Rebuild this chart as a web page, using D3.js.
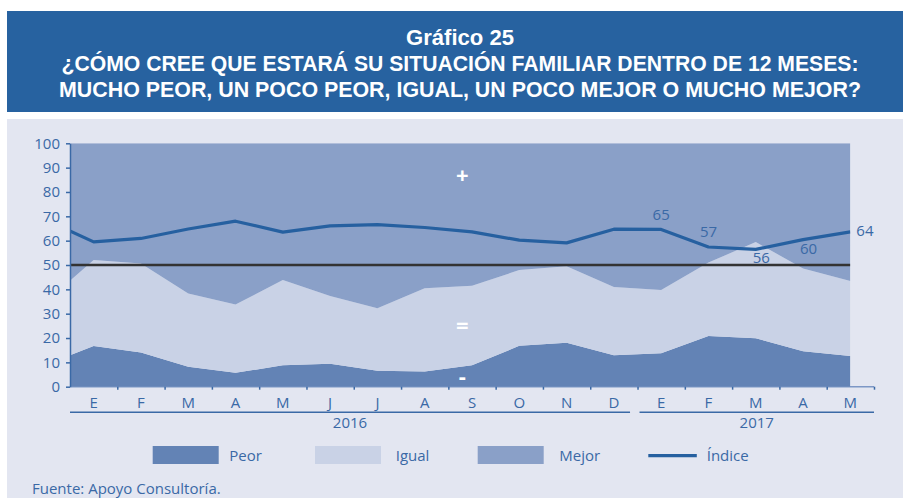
<!DOCTYPE html>
<html>
<head>
<meta charset="utf-8">
<script src="https://cdn.jsdelivr.net/npm/d3@7"></script>
<style>
  html, body { margin: 0; padding: 0; background: #ffffff; }
  svg { display: block; font-family: "Open Sans", "DejaVu Sans", sans-serif; }
</style>
</head>
<body>
<svg id="chart" width="903" height="498"></svg>
<script>
// ---------------- DATA ----------------
// First entry is Dec 2015 (only partly visible at the left edge, clipped)
const periods = ["D-2015","E","F","M","A","M","J","J","A","S","O","N","D","E","F","M","A","M"];
const monthLabels = ["E","F","M","A","M","J","J","A","S","O","N","D","E","F","M","A","M"];
const years = [
  { label: "2016", from: 0, to: 12 },
  { label: "2017", from: 12, to: 17 }
];
const peor  = [9.1, 16.7, 14.0, 8.2, 5.7, 8.8, 9.4, 6.6, 6.2, 8.8, 16.8, 18.1, 12.9, 13.7, 20.8, 19.9, 14.6, 12.6];
const igual = [25.8, 35.4, 36.6, 30.1, 28.1, 35.0, 27.9, 25.6, 34.2, 32.7, 31.1, 31.4, 28.1, 26.0, 30.2, 39.5, 34.0, 30.8];
const mejor = [65.1, 47.9, 49.4, 61.7, 66.2, 56.2, 62.7, 67.8, 59.6, 58.5, 52.1, 50.5, 59.0, 60.3, 49.0, 40.6, 51.4, 56.6];
const indice = [68.5, 59.5, 60.9, 64.8, 68.0, 63.5, 66.1, 66.6, 65.4, 63.6, 60.2, 59.1, 64.7, 64.6, 57.4, 56.4, 60.4, 63.6];
const labeledIdx = [13, 14, 15, 16, 17];
const labelPlace = ["above", "above", "below", "below", "right"];
const yTicks = [0,10,20,30,40,50,60,70,80,90,100];
const refValue = 50;
const seriesNames = ["Peor", "Igual", "Mejor"];
const zoneSymbols = ["+", "=", "-"];
const titleLines = ["Gráfico 25",
  "¿CÓMO CREE QUE ESTARÁ SU SITUACIÓN FAMILIAR DENTRO DE 12 MESES:",
  "MUCHO PEOR, UN POCO PEOR, IGUAL, UN POCO MEJOR O MUCHO MEJOR?"];
const source = "Fuente: Apoyo Consultoría.";

// ---------------- STYLE ----------------
const C = {
  band: "#2762A0", panel: "#E3E6F1",
  peor: "#6383B5", igual: "#C9D2E6", mejor: "#8AA0C8",
  line: "#2660A0", ref: "#333333", text: "#3A69A6", axis: "#3A69A6"
};

const svg = d3.select("#chart");

// Title band and panel
svg.append("rect").attr("x", 7).attr("y", 11).attr("width", 896).attr("height", 101).attr("fill", C.band);
svg.append("rect").attr("x", 7).attr("y", 119).attr("width", 896).attr("height", 379).attr("fill", C.panel);

const tl = [
  { y: 44.5, size: 21.5, len: 108 },
  { y: 70.7, size: 21.5, len: 797 },
  { y: 96.7, size: 21.5, len: 802 }
];
titleLines.forEach((t, i) => {
  svg.append("text").attr("x", 460).attr("y", tl[i].y)
    .attr("text-anchor", "middle").attr("fill", "#fff")
    .attr("font-family", "'Liberation Sans', Arial, sans-serif")
    .attr("font-weight", 700).attr("font-size", tl[i].size)
    .attr("textLength", tl[i].len).attr("lengthAdjust", "spacingAndGlyphs")
    .text(t);
});

// ---------------- SCALES ----------------
const nBands = monthLabels.length;
const x = d3.scaleLinear().domain([0, nBands]).range([70, 874]);
const y = d3.scaleLinear().domain([0, 100]).range([386.7, 143.3]);
const xPt = i => x(i - 0.5);   // data index i (0 = Dec 2015) -> x position
const plotRight = xPt(periods.length - 1);

// clip
svg.append("defs").append("clipPath").attr("id", "plotclip")
  .append("rect").attr("x", x(0)).attr("y", y(100)).attr("width", plotRight - x(0)).attr("height", y(0) - y(100));

// x axis base line (under fill)
svg.append("line").attr("x1", x(0)).attr("x2", x(nBands)).attr("y1", y(0)).attr("y2", y(0))
  .attr("stroke", "#7D97C6").attr("stroke-width", 1.5);

// stacked areas
const rows = periods.map((p, i) => ({ i, Peor: peor[i], Igual: igual[i], Mejor: mejor[i] }));
const stack = d3.stack().keys(seriesNames)(rows);
const area = d3.area().x(d => xPt(d.data.i)).y0(d => y(d[0])).y1(d => y(d[1]));
const g = svg.append("g").attr("clip-path", "url(#plotclip)");
const colors = { Peor: C.peor, Igual: C.igual, Mejor: C.mejor };
g.selectAll("path.area").data(stack).join("path").attr("class", "area")
  .attr("d", area).attr("fill", d => colors[d.key]);

// reference line at 50
g.append("line").attr("x1", x(0)).attr("x2", plotRight).attr("y1", y(refValue)).attr("y2", y(refValue))
  .attr("stroke", C.ref).attr("stroke-width", 2.4);

// indice line
const line = d3.line().x((d, i) => xPt(i)).y(d => y(d));
g.append("path").attr("d", line(indice)).attr("fill", "none")
  .attr("stroke", C.line).attr("stroke-width", 3.2).attr("stroke-linejoin", "round");

// zone symbols (+ above, = middle, - bottom)
const midX = (x(0) + plotRight) / 2 + 2;
const symbolLevels = [87, 25.4, 4.4];
zoneSymbols.forEach((s, k) => {
  svg.append("text").attr("x", midX).attr("y", y(symbolLevels[k])).attr("dy", "0.35em")
    .attr("text-anchor", "middle").attr("fill", "#fff").attr("font-weight", 700)
    .attr("font-size", 22).text(s);
});

// value labels
const fmt = d3.format(".0f");
labeledIdx.forEach((idx, k) => {
  const px = xPt(idx), py = y(indice[idx]);
  const t = svg.append("text").attr("fill", C.text).attr("font-size", 15).text(fmt(indice[idx]));
  const p = labelPlace[k];
  if (p === "above") t.attr("x", px).attr("y", py - 9.5).attr("text-anchor", "middle");
  else if (p === "below") t.attr("x", px + 5.5).attr("y", py + 14).attr("text-anchor", "middle");
  else t.attr("x", px + 6).attr("y", py + 4.5).attr("text-anchor", "start");
});

// y axis
const yAxis = d3.axisLeft(y).tickValues(yTicks).tickSize(4).tickSizeOuter(0).tickPadding(6);
const ya = svg.append("g").attr("transform", `translate(${x(0)},0)`).call(yAxis);
ya.select(".domain").attr("stroke", C.axis).attr("stroke-width", 1.5);
ya.selectAll(".tick line").attr("stroke", C.axis).attr("stroke-width", 1.5);
ya.selectAll(".tick text").attr("fill", C.text).attr("font-size", 15)
  .attr("font-family", "Open Sans, sans-serif");

// x axis ticks at band boundaries
const xa = d3.axisBottom(x).tickValues(d3.range(1, nBands + 1)).tickSize(3).tickSizeOuter(0).tickFormat("");
const xg = svg.append("g").attr("transform", `translate(0,${y(0)})`).call(xa);
xg.select(".domain").remove();
xg.selectAll(".tick line").attr("stroke", C.axis).attr("stroke-width", 1.5);

// month labels
svg.append("g").selectAll("text").data(monthLabels).join("text")
  .attr("x", (d, i) => x(i + 0.5)).attr("y", 408.3).attr("text-anchor", "middle")
  .attr("fill", C.text).attr("font-size", 15).text(d => d);

// year underlines and labels
years.forEach((yr, k) => {
  const x1 = x(yr.from) + (k === 0 ? 0 : 2);
  const x2 = k === years.length - 1 ? x(yr.to) : x(yr.to) - 7.5;
  svg.append("line").attr("x1", x1).attr("x2", x2).attr("y1", 412.3).attr("y2", 412.3)
    .attr("stroke", C.axis).attr("stroke-width", 1.5);
  svg.append("text").attr("x", (x1 + x2) / 2).attr("y", 428.3).attr("text-anchor", "middle")
    .attr("fill", C.text).attr("font-size", 15).text(yr.label);
});

// legend
const legendItems = [
  { name: "Peor", type: "rect", color: C.peor, x: 152.7, tx: 229.3 },
  { name: "Igual", type: "rect", color: C.igual, x: 315, tx: 395.7 },
  { name: "Mejor", type: "rect", color: C.mejor, x: 477.7, tx: 559.3 },
  { name: "Índice", type: "line", color: C.line, x: 648.3, tx: 706.7 }
];
legendItems.forEach(it => {
  if (it.type === "rect") {
    svg.append("rect").attr("x", it.x).attr("y", 446).attr("width", 66).attr("height", 18).attr("fill", it.color);
  } else {
    svg.append("line").attr("x1", it.x).attr("x2", it.x + 48.5).attr("y1", 455.7).attr("y2", 455.7)
      .attr("stroke", it.color).attr("stroke-width", 3.2);
  }
  svg.append("text").attr("x", it.tx).attr("y", 460.5).attr("fill", C.text).attr("font-size", 15).text(it.name);
});

// source
svg.append("text").attr("x", 32).attr("y", 494).attr("fill", C.text).attr("font-size", 15).text(source);
</script>
</body>
</html>
